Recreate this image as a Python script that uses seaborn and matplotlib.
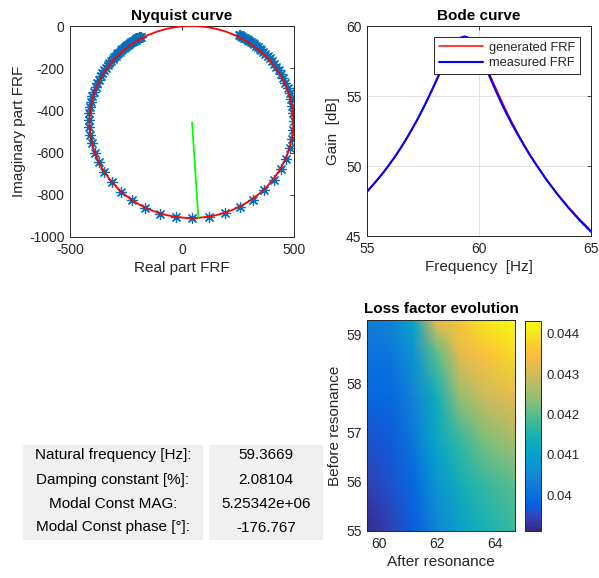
import numpy as np
import matplotlib
matplotlib.use("Agg")
import matplotlib.pyplot as plt
import seaborn as sns
from matplotlib.colors import LinearSegmentedColormap
from matplotlib.patches import Circle, Rectangle

# ---------------- data ----------------
# Nyquist: measured FRF points (real, imag)
nyq_real = [254, 259, 265, 270, 276, 282, 288, 294, 301, 308,
            315, 322, 330, 338, 346, 354, 363, 372, 382, 391,
            401, 411, 421, 431, 442, 452, 462, 471, 480, 487,
            493, 497, 498, 496, 491, 481, 463, 441, 410, 368,
            317, 258, 194, 122, 46, -29, -100, -165, -224, -273,
            -314, -347, -372, -390, -401, -409, -413, -414, -413, -410,
            -405, -400, -393, -386, -379, -371, -363, -355, -347, -340,
            -332, -324, -317, -310, -303, -296, -290, -284, -278, -272,
            -266, -261, -255, -250, -245, -240, -236, -231, -227, -223,
            -219, -215, -211, -207, -204, -200, -197, -194, -191, -188, -185]
nyq_imag = [-42, -45, -48, -51, -55, -58, -62, -66, -71, -76,
            -81, -87, -93, -99, -107, -114, -123, -132, -143, -154,
            -166, -179, -194, -210, -228, -247, -269, -293, -319, -348,
            -380, -414, -452, -493, -537, -577, -630, -680, -729, -778,
            -823, -858, -886, -906, -912, -907, -889, -863, -827, -785,
            -739, -691, -645, -600, -556, -517, -480, -446, -414, -385,
            -358, -333, -311, -290, -271, -254, -238, -223, -210, -197,
            -186, -175, -166, -157, -149, -141, -134, -127, -121, -116,
            -110, -105, -100, -96, -92, -88, -84, -81, -78, -75,
            -72, -69, -66, -64, -62, -59, -57, -55, -53, -52, -50]
# fitted circle (generated FRF) and diameter line
fit_center = (42, -455)
fit_radius = 455
diam_x = [45, 73]
diam_y = [-457, -908]

# Bode
bode_freq = [55, 55.25, 55.5, 55.75, 56, 56.25, 56.5, 56.75, 57, 57.25,
             57.5, 57.75, 58, 58.25, 58.5, 58.75, 58.9, 59, 59.2, 59.37,
             59.5, 59.6, 59.75, 59.85, 60, 60.25, 60.5, 60.75, 61, 61.25,
             61.5, 61.75, 62, 62.25, 62.5, 63, 63.5, 64, 64.5, 65]
gen_db = [48.15, 48.61, 49.08, 49.58, 50.12, 50.68, 51.28, 51.92, 52.60, 53.32,
          54.09, 54.89, 55.74, 56.60, 57.44, 58.20, 58.58, 58.79, 59.08, 59.15,
          59.10, 59.00, 58.75, 58.53, 58.13, 57.34, 56.47, 55.57, 54.69, 53.84,
          53.04, 52.28, 51.56, 50.88, 50.25, 49.07, 48.02, 47.06, 46.19, 45.39]
meas_db = [48.17, 48.62, 49.09, 49.58, 50.11, 50.67, 51.27, 51.92, 52.61, 53.33,
           54.10, 54.92, 55.78, 56.65, 57.50, 58.28, 58.66, 58.88, 59.18, 59.25,
           59.18, 59.05, 58.74, 58.47, 58.02, 57.19, 56.29, 55.38, 54.49, 53.67,
           52.91, 52.19, 51.50, 50.84, 50.22, 49.04, 47.98, 47.00, 46.11, 45.30]

# Loss factor map
after_freq = [59.6, 60.4, 61.2, 62.0, 62.8, 63.6, 64.7]
before_freq = [55.0, 55.9, 56.8, 57.7, 58.6, 59.3]
loss_factor = [
    [0.03915, 0.03940, 0.03975, 0.04040, 0.04100, 0.04140, 0.04180],
    [0.03940, 0.03960, 0.03990, 0.04070, 0.04130, 0.04170, 0.04200],
    [0.03960, 0.03970, 0.04015, 0.04110, 0.04170, 0.04220, 0.04260],
    [0.03985, 0.03990, 0.04040, 0.04130, 0.04240, 0.04290, 0.04320],
    [0.04010, 0.04015, 0.04070, 0.04200, 0.04320, 0.04350, 0.04390],
    [0.04030, 0.04040, 0.04110, 0.04330, 0.04360, 0.04400, 0.04430],
]
cbar_ticks = [0.040, 0.041, 0.042, 0.043, 0.044]
cbar_labels = ["0.04", "0.041", "0.042", "0.043", "0.044"]
clim = (0.03912, 0.04433)

# Modal parameters table
param_labels = ["Natural frequency [Hz]:", "Damping constant [%]:",
                "Modal Const MAG:", "Modal Const phase [\u00b0]:"]
param_values = ["59.3669", "2.08104", "5.25342e+06", "-176.767"]

# ---------------- style ----------------
sns.set_theme(style="white")
plt.rcParams['font.family'] = ['Liberation Sans', 'DejaVu Sans']
plt.rcParams['axes.unicode_minus'] = False

DARK = '#262626'
parula_pts = [(0.2081, 0.1663, 0.5292), (0.1959, 0.2645, 0.7279), (0.0117, 0.3875, 0.8820),
              (0.0498, 0.4586, 0.8641), (0.0793, 0.5200, 0.8312), (0.0343, 0.5966, 0.8199),
              (0.0228, 0.6535, 0.7768), (0.0843, 0.6928, 0.7062), (0.2178, 0.7250, 0.6193),
              (0.3953, 0.7459, 0.5244), (0.5709, 0.7485, 0.4494), (0.7184, 0.7411, 0.3905),
              (0.8507, 0.7299, 0.3360), (0.9739, 0.7314, 0.2666), (0.9880, 0.8066, 0.1794),
              (0.9599, 0.9218, 0.0948), (0.9763, 0.9831, 0.0538)]
parula_pos = [0, 4, 8, 12, 16, 20, 24, 28, 32, 36, 40, 44, 48, 52, 56, 60, 63]
parula = LinearSegmentedColormap.from_list(
    "parula", [(p / 63.0, c) for p, c in zip(parula_pos, parula_pts)])

W, H = 599, 578


def rect(l, t, r, b):
    return [l / W, 1 - b / H, (r - l) / W, (b - t) / H]


def matlab_axes(ax):
    for sp in ax.spines.values():
        sp.set_visible(True)
        sp.set_color(DARK)
        sp.set_linewidth(0.7)
    ax.tick_params(direction='in', length=3, width=0.6, top=True, right=True,
                   labelsize=10, colors=DARK, pad=4)


fig = plt.figure(figsize=(W / 100, H / 100), dpi=100)
fig.patch.set_facecolor('white')

# ---------------- Nyquist ----------------
ax1 = fig.add_axes(rect(70, 26, 294, 237))
sns.scatterplot(x=nyq_real, y=nyq_imag, ax=ax1, marker=(8, 2, 0), s=52,
                color='#0072BD', edgecolor='#0072BD', linewidth=0.9, zorder=2, legend=False)
ax1.add_patch(Circle(fit_center, fit_radius, fill=False, ec='red', lw=1.3, zorder=3))
sns.lineplot(x=diam_x, y=diam_y, ax=ax1, color='#00FF00', lw=1.3, zorder=4,
             estimator=None, sort=False)
ax1.set_xlim(-500, 500)
ax1.set_ylim(-1000, 0)
ax1.set_xticks([-500, 0, 500])
ax1.set_yticks([-1000, -800, -600, -400, -200, 0])
matlab_axes(ax1)
ax1.set_title("Nyquist curve", fontsize=11, fontweight='bold', color='black', pad=4)
ax1.set_xlabel("Real part FRF", fontsize=11, color=DARK, labelpad=3)
ax1.set_ylabel("Imaginary part FRF", fontsize=11, color=DARK, labelpad=2)

# ---------------- Bode ----------------
ax2 = fig.add_axes(rect(367, 26, 591, 236))
sns.lineplot(x=bode_freq, y=gen_db, ax=ax2, color='red', lw=1.1,
             label='generated FRF', estimator=None, sort=False)
sns.lineplot(x=bode_freq, y=meas_db, ax=ax2, color='blue', lw=1.5,
             label='measured FRF', estimator=None, sort=False)
ax2.set_xlim(55, 65)
ax2.set_ylim(45, 60)
ax2.set_xticks([55, 60, 65])
ax2.set_yticks([45, 50, 55, 60])
ax2.grid(True, color='#DCDCDC', lw=0.6)
ax2.set_axisbelow(True)
matlab_axes(ax2)
ax2.set_title("Bode curve", fontsize=11, fontweight='bold', color='black', pad=4)
ax2.set_xlabel("Frequency  [Hz]", fontsize=11, color=DARK, labelpad=3)
ax2.set_ylabel("Gain  [dB]", fontsize=11, color=DARK, labelpad=4)
leg = ax2.legend(loc='upper right', bbox_to_anchor=(0.951, 0.946), borderaxespad=0,
                 fontsize=9.3, frameon=True, fancybox=False, framealpha=1,
                 handlelength=3.4, handletextpad=0.5, labelspacing=0.25,
                 borderpad=0.35)
leg.get_frame().set_edgecolor(DARK)
leg.get_frame().set_linewidth(0.7)
for t in leg.get_texts():
    t.set_color(DARK)

# ---------------- Loss factor map ----------------
ax3 = fig.add_axes(rect(367, 320, 515, 531))
AX, BY = np.meshgrid(after_freq, before_freq)
mesh = ax3.pcolormesh(AX, BY, np.array(loss_factor), shading='gouraud', cmap=parula,
                      vmin=clim[0], vmax=clim[1])
ax3.set_xlim(after_freq[0], after_freq[-1])
ax3.set_ylim(before_freq[0], before_freq[-1])
ax3.set_xticks([60, 62, 64])
ax3.set_yticks([55, 56, 57, 58, 59])
matlab_axes(ax3)
ax3.set_title("Loss factor evolution", fontsize=11, fontweight='bold', color='black', pad=5)
ax3.set_xlabel("After resonance", fontsize=11, color=DARK, labelpad=3)
ax3.set_ylabel("Before resonance", fontsize=11, color=DARK, labelpad=3)

cax = fig.add_axes(rect(525, 320.5, 540.5, 530.7))
cb = fig.colorbar(mesh, cax=cax, ticks=cbar_ticks)
cb.ax.set_yticklabels(cbar_labels)
cb.outline.set_edgecolor(DARK)
cb.outline.set_linewidth(0.7)
cb.ax.tick_params(direction='in', length=3, width=0.6, labelsize=9.5, colors=DARK, pad=4)

# ---------------- table ----------------
fig.add_artist(Rectangle((23 / W, 1 - 540 / H), 180 / W, 95 / H, transform=fig.transFigure,
                         facecolor='#F0F0F0', edgecolor='none'))
fig.add_artist(Rectangle((209 / W, 1 - 540 / H), 114 / W, 95 / H, transform=fig.transFigure,
                         facecolor='#F0F0F0', edgecolor='none'))
row_y = [455, 480, 503.5, 527.5]
for lab, val, yy in zip(param_labels, param_values, row_y):
    fig.text(113 / W, 1 - yy / H, lab, ha='center', va='center', fontsize=11, color='black')
    fig.text(266 / W, 1 - yy / H, val, ha='center', va='center', fontsize=11, color='black')

fig.savefig("out.png", dpi=100, facecolor='white')
